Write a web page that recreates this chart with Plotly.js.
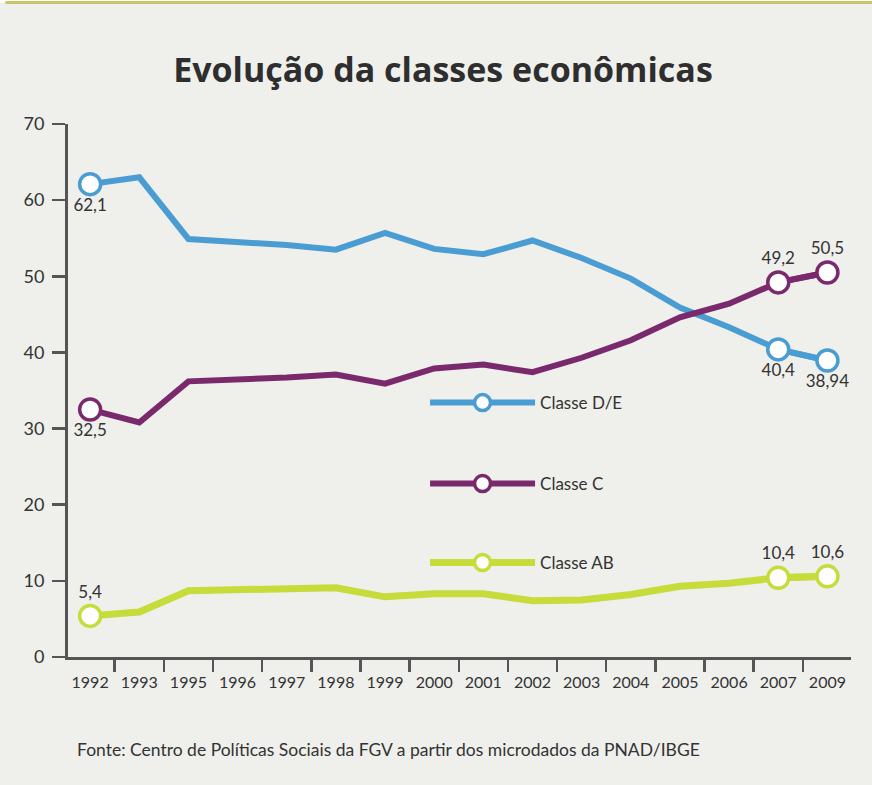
<!DOCTYPE html>
<html><head><meta charset="utf-8">
<script src="https://cdn.plot.ly/plotly-3.0.1.min.js"></script>
<style>html,body{margin:0;padding:0;background:#efefec;}#chart{width:872px;height:785px;}</style>
</head><body><div id="chart"></div>
<script>
const years = ['1992','1993','1995','1996','1997','1998','1999','2000','2001','2002','2003','2004','2005','2006','2007','2009'];
const classeDE = [62.1,63.0,54.9,54.5,54.1,53.5,55.7,53.6,52.9,54.7,52.4,49.7,45.9,43.3,40.4,38.94];
const classeC  = [32.5,30.8,36.2,36.4,36.7,37.1,35.9,37.9,38.4,37.4,39.3,41.6,44.6,46.4,49.2,50.5];
const classeAB = [5.4,5.9,8.7,8.8,8.9,9.1,7.9,8.3,8.3,7.4,7.5,8.2,9.3,9.7,10.4,10.6];
const labelsDE = ['62,1','','','','','','','','','','','','','','40,4','38,94'];
const labelsC  = ['32,5','','','','','','','','','','','','','','49,2','50,5'];
const labelsAB = ['5,4','','','','','','','','','','','','','','10,4','10,6'];
const seriesNames = ['Classe D/E','Classe C','Classe AB'];
const colors = ['#4a9dd2','#7a2a6c','#c6dc3a'];
// label side for [first, 2007, 2009]
const labelPos = [
  ['bottom center','bottom center','bottom center'],
  ['bottom center','top center','top center'],
  ['top center','top center','top center']
];
const font = 'Lato, "Open Sans", sans-serif';

function posArr(k){ return years.map((y,i)=> i===0 ? labelPos[k][0] : (i===years.length-2 ? labelPos[k][1] : labelPos[k][2])); }
const allVals = [classeDE, classeC, classeAB];
const allLabels = [labelsDE, labelsC, labelsAB];

const traces = [];
allVals.forEach((vals,k)=>{
  traces.push({
    x: years, y: vals, type:'scatter', mode:'lines', showlegend:false,
    line:{color:colors[k], width: k===2?7:6}, hoverinfo:'skip'
  });
});
allVals.forEach((vals,k)=>{
  const labs = allLabels[k];
  traces.push({
    x: years, y: vals.map((v,i)=> labs[i] ? v : null), type:'scatter', mode:'lines+markers+text',
    connectgaps:false,
    name: seriesNames[k], legend: k===0?'legend':('legend'+(k+1)), showlegend:true,
    line:{color:colors[k], width: k===2?7:6},
    marker:{size:21, color:'#ffffff', line:{color:colors[k], width:3.5}},
    text: labs, textposition: posArr(k),
    textfont:{family:font, size:17, color:'#333333'},
    cliponaxis:false, hoverinfo:'skip'
  });
});

const legendBase = {x:0.456, xanchor:'left', yanchor:'middle', bgcolor:'rgba(0,0,0,0)', borderwidth:0,
  font:{family:font, size:17, color:'#333333'}, itemwidth:105, itemsizing:'trace'};

const layout = {
  width:872, height:785, showlegend:true,
  paper_bgcolor:'#efefec', plot_bgcolor:'rgba(0,0,0,0)',
  margin:{l:68, r:21, t:124, b:128},
  title:{text:'<b>Evolução da classes econômicas</b>', x:0.508, xanchor:'center', y:0.911, yanchor:'middle',
    font:{family:'"Open Sans", sans-serif', size:34, color:'#2e2e2e'}},
  xaxis:{type:'category', range:[-0.45,15.48], tickson:'boundaries', ticks:'outside', ticklen:12, tickwidth:2.5, tickcolor:'#555555',
    showline:true, linecolor:'#555555', linewidth:3, showgrid:false, zeroline:false, tickangle:0, ticklabelstandoff:9,
    tickfont:{family:font, size:16, color:'#333333'}},
  yaxis:{range:[0,70], tickvals:[0,10,20,30,40,50,60,70], ticks:'outside', ticklen:13, tickwidth:2.5, tickcolor:'#555555',
    showline:true, linecolor:'#555555', linewidth:3, showgrid:false, zeroline:false, ticklabelstandoff:4,
    tickfont:{family:font, size:18, color:'#333333'}},
  legend: Object.assign({}, legendBase, {y:0.4765}),
  legend2: Object.assign({}, legendBase, {y:0.3246}),
  legend3: Object.assign({}, legendBase, {y:0.1764}),
  shapes:[
    {type:'rect', xref:'paper', yref:'paper', x0:-0.2, x1:1.1, y0:1.228, y1:1.3, fillcolor:'#ffffff', line:{width:0}, layer:'below'},
    {type:'line', xref:'paper', yref:'paper', x0:-0.08, x1:1.1, y0:1.228, y1:1.228, line:{color:'#c9c66a', width:3}}
  ],
  annotations:[
    {text:'Fonte: Centro de Políticas Sociais da FGV a partir dos microdados da PNAD/IBGE', xref:'paper', yref:'paper',
     x:0.009, xanchor:'left', y:-0.173, yanchor:'middle', showarrow:false,
     font:{family:font, size:17.5, color:'#333333'}}
  ]
};
Plotly.newPlot('chart', traces, layout, {displayModeBar:false, staticPlot:true});
</script></body></html>
